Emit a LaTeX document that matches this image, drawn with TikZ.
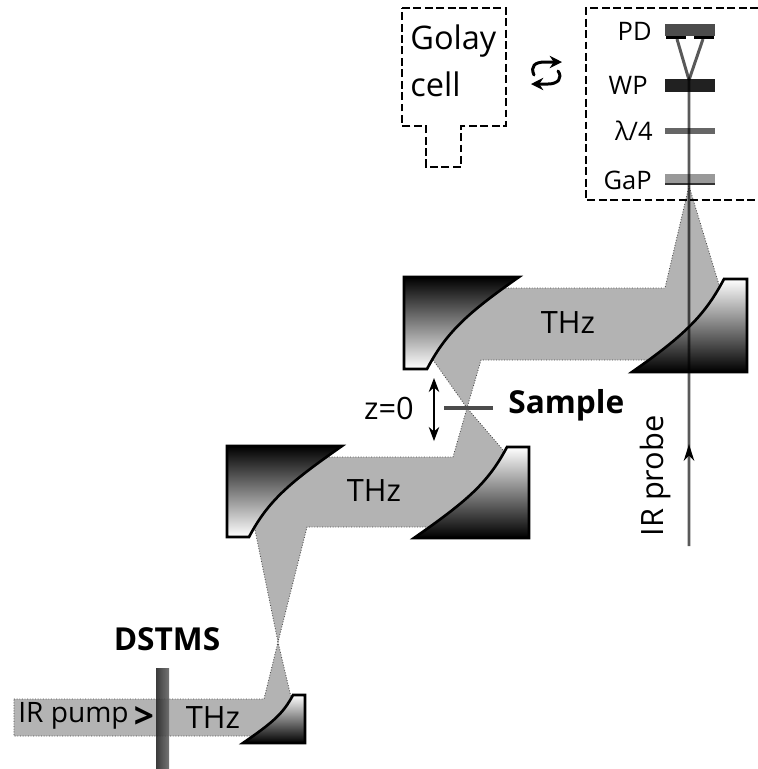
\documentclass[tikz,border=0pt]{standalone}
\usepackage{fontspec}
\setmainfont{Open Sans}
\usepackage{tikz}
\usetikzlibrary{arrows.meta}
\definecolor{beamgray}{HTML}{B3B3B3}
\tikzset{
  beam/.style={fill=beamgray,draw=gray!60!black,densely dotted,line width=0.5pt},
  mirrorup/.style={draw=black,line width=1.5pt,line join=miter,top color=white,bottom color=black},
  mirrordown/.style={draw=black,line width=1.5pt,line join=miter,top color=black,bottom color=white},
  dashbox/.style={draw=black,line width=1.4pt,dash pattern=on 4.5pt off 2pt},
  ray/.style={draw=black,opacity=0.65,line width=1.7pt},
  label/.style={font=\fontsize{17.5}{21}\selectfont,inner sep=0pt},
  smalllabel/.style={font=\fontsize{14.5}{17}\selectfont,inner sep=0pt,anchor=east},
  boldlabel/.style={font=\fontsize{18}{22}\selectfont\bfseries,inner sep=0pt},
  swaparrow/.style={-{Stealth[length=7pt,width=7pt]},line width=1.7pt,line cap=round}
}
\begin{document}
\begin{tikzpicture}[x=0.02cm,y=-0.02cm]
  \useasboundingbox (0,0) rectangle (758,769);
  % Beams
  \draw[beam] (14,699) -- (264,699) -- (278,642) -- (291,697) -- (295,725) -- (262,736) -- (14,736) -- cycle;
  \draw[beam] (278,642) -- (254,525) -- (270,470) -- (328,457) -- (453,457) -- (467,408) -- (503,450)
    -- (510,510) -- (440,527) -- (307,527) -- cycle;
  \draw[beam] (467,408) -- (431,357) -- (450,300) -- (505,288) -- (665,288) -- (689,186) -- (720,288)
    -- (740,340) -- (655,360) -- (481,360) -- cycle;
  % Mirrors
  \draw[mirrorup] (243,743) .. controls (272,723) and (283,714) .. (293,695) -- (305,695) -- (305,743) -- cycle;
  \draw[mirrordown] (342,446) .. controls (289,483) and (268,501) .. (249,537) -- (227,537) -- (227,446) -- cycle;
  \draw[mirrorup] (414,538) .. controls (467,501) and (488,483) .. (507,447) -- (529,447) -- (529,538) -- cycle;
  \draw[mirrordown] (519,277) .. controls (466,314) and (446,333) .. (427,369) -- (404,369) -- (404,277) -- cycle;
  \draw[mirrorup] (632,372) .. controls (685,335) and (705,315) .. (724,279) -- (747,279) -- (747,372) -- cycle;
  % Crystal
  \shade[left color=black!85,right color=black!60,opacity=0.9] (156,668) rectangle (169,768);
  \node[boldlabel] (dstms) at (167,639) {DSTMS};
  \node[inner sep=0pt,font=\fontsize{16}{19}\selectfont,anchor=west] (pump) at (18,716) {IR pump};
  \node[inner sep=0pt,font=\fontsize{20}{24}\selectfont\bfseries] (pumpdir) at (144,718) {>};
  \node[label] (thzone) at (213,718) {THz};
  \node[label] (thztwo) at (374,491) {THz};
  \node[label] (thzthree) at (568,323) {THz};
  % Sample
  \draw[black!70,line width=2.2pt] (444,408) -- (493,408);
  \node[boldlabel,anchor=west] (sample) at (508,405) {Sample};
  \node[label] (zpos) at (389,408) {z=0};
  \coordinate (ztop) at (434,378);
  \coordinate (zbot) at (434,441);
  \draw[{Stealth[length=8pt,width=6pt]}-{Stealth[length=8pt,width=6pt]},line width=0.6pt] (ztop) -- (zbot);
  % Golay cell
  \draw[dashbox] (402,8) -- (506,8) -- (506,126) -- (461,126) -- (461,167) -- (426,167) -- (426,126) -- (402,126) -- cycle;
  \node[font=\fontsize{18.5}{27}\selectfont,align=left,anchor=north west,inner sep=0pt] (golay) at (410,24) {Golay\\cell};
  % Swap arrows
  \draw[swaparrow] (534,75) .. controls (530,66) and (535,62) .. (545,62) -- (562,62);
  \draw[swaparrow] (558,71) .. controls (563,78) and (558,84) .. (548,84) -- (531,84);
  % Detection box
  \draw[dashbox] (758,8) -- (586,8) -- (586,200) -- (758,200);
  \fill[black!70] (665,24) rectangle (715,36);
  \fill[black] (666,36) rectangle (686,39);
  \fill[black] (694,36) rectangle (714,39);
  \fill[black!87] (665,79) rectangle (715,92);
  \fill[black!60] (665,128) rectangle (715,134);
  \fill[black!40] (665,174) rectangle (715,183);
  \fill[black!80] (665,183) rectangle (715,185);
  \node[smalllabel] (pd) at (652,31) {PD};
  \node[smalllabel] (wp) at (648,85) {WP};
  \node[smalllabel] (qwp) at (653,131) {λ/4};
  \node[smalllabel] (gap) at (652,180) {GaP};
  % Probe
  \coordinate (probestart) at (689,546);
  \coordinate (probetip) at (689,443);
  \coordinate (probesplit) at (689,80);
  \coordinate (pdleft) at (677,39);
  \coordinate (pdright) at (703,39);
  \draw[ray] (probestart) -- (probesplit) -- (pdleft);
  \draw[ray] (probesplit) -- (pdright);
  \draw[-{Stealth[length=11pt,width=7pt]},draw opacity=0] (probestart) -- (probetip);
  \node[label,rotate=90] (probe) at (656,476) {IR probe};
\end{tikzpicture}
\end{document}
